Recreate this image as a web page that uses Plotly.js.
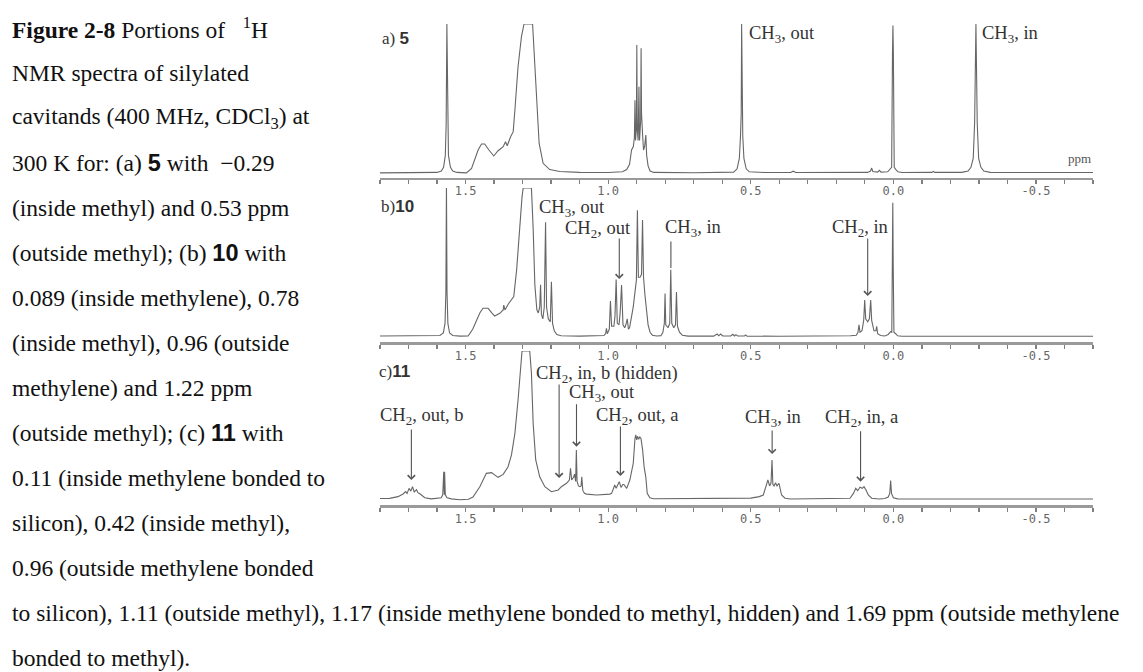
<!DOCTYPE html>
<html>
<head>
<meta charset="utf-8">
<script src="https://cdn.plot.ly/plotly-3.0.1.min.js"></script>
<style>html,body{margin:0;padding:0;background:#fff;}#chart{width:1143px;height:672px;}</style>
</head>
<body>
<div id="chart"></div>
<script>
// ---- Data: [ppm, relative intensity (0 = baseline, 100 = panel top)] ----
const spectrumA = [[1.80,0.3],[1.70,0.3],[1.62,0.4],[1.60,0.6],[1.585,1.5],[1.577,4],[1.571,12],[1.568,33],[1.5655,100],[1.563,33],[1.560,12],[1.553,4],[1.545,1.5],[1.53,0.6],[1.497,0.3],[1.479,3.3],[1.468,8.9],[1.456,15.6],[1.444,19.6],[1.433,19.6],[1.418,15.6],[1.401,11.6],[1.386,15.1],[1.368,17.8],[1.360,21.2],[1.354,18.5],[1.342,24.5],[1.333,27.9],[1.327,42.4],[1.316,71.4],[1.304,91.5],[1.295,100],[1.265,100],[1.260,82.6],[1.251,44.6],[1.242,20],[1.228,6.7],[1.205,2.5],[1.17,1.2],[1.10,0.6],[1.00,0.5],[0.95,1],[0.935,2.5],[0.925,6],[0.918,15.6],[0.912,17.8],[0.908,24],[0.906,49],[0.904,22],[0.901,30],[0.8995,86],[0.898,30],[0.895,22],[0.892,58],[0.890,22],[0.886,35],[0.8845,83.7],[0.883,40],[0.879,25],[0.876,15.6],[0.872,18],[0.868,25.7],[0.865,12],[0.860,5],[0.853,1.5],[0.84,0.6],[0.70,0.4],[0.60,0.5],[0.56,0.8],[0.548,3],[0.540,10],[0.536,25],[0.5335,40],[0.532,100],[0.5305,40],[0.528,25],[0.524,10],[0.516,3],[0.505,1],[0.45,0.5],[0.36,0.5],[0.351,1.4],[0.342,0.5],[0.20,0.5],[0.09,0.6],[0.080,1.5],[0.076,3.5],[0.072,1.2],[0.055,0.8],[0.049,2],[0.043,0.8],[0.02,1],[0.012,2.5],[0.006,4],[0.003,81],[0.0015,99],[0.000,81],[-0.003,4],[-0.009,2.5],[-0.016,1],[-0.03,0.5],[-0.10,0.5],[-0.135,0.6],[-0.140,1.3],[-0.145,0.6],[-0.24,0.6],[-0.262,1.5],[-0.272,4],[-0.280,10],[-0.285,34],[-0.2895,100],[-0.294,34],[-0.299,10],[-0.307,4],[-0.317,1.5],[-0.34,0.6],[-0.45,0.5],[-0.60,0.5],[-0.70,0.5]];

const spectrumB = [[1.80,0.5],[1.75,0.6],[1.70,0.4],[1.65,0.6],[1.61,0.5],[1.59,0.8],[1.578,2.5],[1.572,9],[1.569,30],[1.567,102],[1.565,30],[1.562,9],[1.556,2.5],[1.545,0.8],[1.52,0.4],[1.491,0.5],[1.475,5],[1.462,11.2],[1.450,16],[1.439,19.1],[1.421,19.1],[1.408,16],[1.398,13.9],[1.380,15.7],[1.368,18],[1.366,21.3],[1.362,18],[1.350,22],[1.339,24.7],[1.331,27],[1.321,44.8],[1.310,76.3],[1.302,94],[1.298,100],[1.269,100],[1.263,72.9],[1.257,34.8],[1.250,18],[1.245,16],[1.240,20],[1.237,35],[1.234,15],[1.229,12],[1.224,20],[1.2195,77],[1.216,20],[1.210,12],[1.203,10],[1.199,37],[1.195,9],[1.189,4],[1.18,1.5],[1.165,0.6],[1.10,0.4],[1.03,0.4],[1.015,0.8],[1.009,2],[1.006,5.6],[1.003,2],[0.996,5],[0.992,24],[0.988,7],[0.980,7],[0.976,14],[0.972,38.5],[0.968,9],[0.962,8],[0.958,16],[0.953,34.8],[0.948,8],[0.942,6],[0.938,8],[0.933,12],[0.929,5],[0.925,6],[0.918,13],[0.912,20],[0.906,30],[0.901,38],[0.8975,85],[0.894,40],[0.888,40],[0.883,42],[0.8795,78.5],[0.876,40],[0.871,28],[0.866,17],[0.860,8],[0.853,3],[0.845,1],[0.83,0.5],[0.815,0.7],[0.808,3],[0.803,9],[0.8005,29],[0.798,8],[0.790,6],[0.784,9],[0.7805,45],[0.777,9],[0.770,6],[0.764,8],[0.7605,30],[0.757,7],[0.750,3],[0.740,1],[0.72,0.4],[0.63,0.4],[0.618,1.8],[0.612,0.6],[0.606,1.8],[0.598,0.5],[0.57,0.5],[0.563,1.6],[0.557,0.5],[0.552,1.4],[0.546,0.5],[0.522,0.5],[0.518,1.2],[0.513,0.4],[0.40,0.3],[0.20,0.3],[0.15,0.6],[0.13,1],[0.124,3],[0.1205,8],[0.117,3],[0.110,4],[0.104,11],[0.1005,24.7],[0.097,12],[0.090,10],[0.084,12],[0.0795,24.7],[0.076,11],[0.068,4],[0.061,4],[0.0585,7],[0.055,2],[0.045,0.8],[0.03,0.5],[0.018,1.5],[0.010,3.4],[0.0055,3],[0.0035,48],[0.002,90],[0.0005,48],[-0.002,3],[-0.008,2],[-0.015,0.6],[-0.03,0.3],[-0.30,0.3],[-0.60,0.3],[-0.70,0.3]];

const spectrumC = [[1.80,0.5],[1.766,0.6],[1.737,1.8],[1.719,3.6],[1.710,5.2],[1.705,4],[1.698,7.4],[1.692,5.5],[1.686,8.5],[1.680,5],[1.672,6.5],[1.667,4.5],[1.659,3.6],[1.643,1.1],[1.62,0.3],[1.600,0.5],[1.585,1],[1.580,3],[1.5765,18.6],[1.5745,3],[1.5735,18.6],[1.571,3],[1.565,1],[1.55,0.3],[1.52,-0.3],[1.49,0],[1.474,1.5],[1.450,8.5],[1.427,17.5],[1.409,18],[1.386,14.8],[1.368,16.8],[1.351,22],[1.339,29.9],[1.327,44.5],[1.316,67],[1.307,87.2],[1.302,100],[1.275,100],[1.269,85],[1.263,51.2],[1.254,26.5],[1.240,15.2],[1.222,8.5],[1.199,5.1],[1.175,6.3],[1.164,8.5],[1.146,10.8],[1.136,13],[1.132,20.9],[1.128,13],[1.121,15],[1.118,17],[1.114,12],[1.1115,33.2],[1.109,12],[1.104,9],[1.099,8.5],[1.095,9],[1.0925,15.2],[1.089,6],[1.083,4],[1.076,3.5],[1.041,2.9],[0.994,3.5],[0.988,4],[0.980,8],[0.977,9.6],[0.972,7.5],[0.967,10],[0.961,11.9],[0.955,8],[0.949,10],[0.945,10],[0.935,7.4],[0.924,13],[0.912,24.3],[0.906,41],[0.903,43.5],[0.900,40],[0.897,42.5],[0.893,40.5],[0.889,42],[0.885,41],[0.879,33],[0.874,22],[0.868,15],[0.863,4],[0.854,1],[0.84,0.4],[0.70,0.6],[0.60,0.6],[0.50,0.8],[0.470,1.8],[0.456,2.9],[0.447,8.5],[0.440,13],[0.434,9],[0.429,11],[0.4255,26.5],[0.4225,10],[0.418,9],[0.413,11.2],[0.408,9],[0.401,10.8],[0.392,2.9],[0.380,0.7],[0.36,0.2],[0.20,0.2],[0.152,0.7],[0.140,4],[0.132,7.4],[0.125,5.8],[0.117,8.1],[0.109,7.4],[0.103,8.5],[0.096,6.3],[0.088,2.9],[0.076,0.7],[0.05,0.2],[0.03,0.5],[0.018,1.5],[0.0125,4],[0.0095,12.6],[0.0065,4],[0.000,1],[-0.015,0.3],[-0.10,0.2],[-0.40,0.2],[-0.70,0.2]];

const tickValues = [1.5, 1.0, 0.5, 0.0, -0.5];
const tickLabels = ['1.5', '1.0', '0.5', '0.0', '-0.5'];

const SANS = t => '<b><span style="font-family:Liberation Sans">' + t + '</span></b>';
const NB = n => '\u00A0'.repeat(n);
const panelTitles = ['a) ' + SANS('5'), 'b)' + SANS('10'), 'c)' + SANS('11')];

const captionLines = [
  '<b>Figure 2-8</b> Portions of' + NB(3) + '<sup>1</sup>H',
  'NMR spectra of silylated',
  'cavitands (400 MHz, CDCl<sub>3</sub>) at',
  '300 K for: (a) ' + SANS('5') + ' with' + NB(2) + '\u22120.29',
  '(inside methyl) and 0.53 ppm',
  '(outside methyl); (b) ' + SANS('10') + ' with',
  '0.089 (inside methylene), 0.78',
  '(inside methyl), 0.96 (outside',
  'methylene) and 1.22 ppm',
  '(outside methyl); (c) ' + SANS('11') + ' with',
  '0.11 (inside methylene bonded to',
  'silicon), 0.42 (inside methyl),',
  '0.96 (outside methylene bonded',
  'to silicon), 1.11 (outside methyl), 1.17 (inside methylene bonded to methyl, hidden) and 1.69 ppm (outside methylene',
  'bonded to methyl).'
];

// ---- Layout geometry (pixels) ----
const W = 1143, H = 672;
const PX = x => x / W, PY = y => 1 - y / H;
const panels = [
  {top: 24,  axis: 177.5, base: 173.3},
  {top: 188, axis: 342,   base: 336.7},
  {top: 351, axis: 505,   base: 499.3}
];
const lineColor = '#666666';
const serif = 'Liberation Serif, Times New Roman, serif';

const specs = [spectrumA, spectrumB, spectrumC];
const data = specs.map((s, i) => ({
  type: 'scatter', mode: 'lines',
  x: s.map(p => p[0]), y: s.map(p => p[1]),
  xaxis: i === 0 ? 'x' : 'x' + (i + 1),
  yaxis: i === 0 ? 'y' : 'y' + (i + 1),
  line: {color: lineColor, width: 1.1},
  hoverinfo: 'skip', showlegend: false
}));

const layout = {
  width: W, height: H,
  margin: {l: 0, r: 0, t: 0, b: 0},
  paper_bgcolor: '#fff', plot_bgcolor: 'rgba(0,0,0,0)',
  showlegend: false,
  annotations: [],
  font: {family: serif, color: '#222'}
};

panels.forEach((p, i) => {
  const xk = i === 0 ? 'xaxis' : 'xaxis' + (i + 1);
  const yk = i === 0 ? 'yaxis' : 'yaxis' + (i + 1);
  const ya = i === 0 ? 'y' : 'y' + (i + 1);
  layout[xk] = {
    domain: [PX(380), PX(1093)], range: [1.8, -0.7], anchor: ya,
    showline: true, linecolor: '#9a9a9a', linewidth: 2.5,
    ticks: 'outside', ticklen: 4, tickwidth: 1.3, tickcolor: '#808080',
    tickmode: 'array', tickvals: tickValues, ticktext: tickLabels,
    ticklabelstandoff: -3,
    tickfont: {family: 'DejaVu Sans Mono, monospace', size: 12, color: '#666'},
    minor: {tickmode: 'linear', tick0: 0, dtick: 0.1, ticks: 'outside', ticklen: 4, tickwidth: 1.3, tickcolor: '#808080'},
    showgrid: false, zeroline: false, fixedrange: true
  };
  const lo = -(p.axis - p.base) / (p.base - p.top) * 100;
  layout[yk] = {
    domain: [PY(p.axis), PY(p.top)], range: [lo, 100],
    visible: false, showgrid: false, zeroline: false, fixedrange: true
  };
});

function txt(text, x, y, opts) {
  layout.annotations.push(Object.assign({
    text: text, xref: 'paper', yref: 'paper', x: PX(x), y: PY(y),
    xanchor: 'left', yanchor: 'middle', showarrow: false,
    font: {family: serif, size: 18.5, color: '#333'}
  }, opts || {}));
}
function arrow(axis, ppm, val, len, head) {
  layout.annotations.push({
    text: '', xref: 'x' + (axis === 1 ? '' : axis), yref: 'y' + (axis === 1 ? '' : axis),
    x: ppm, y: val, ax: 0, ay: -len, axref: 'pixel', ayref: 'pixel',
    showarrow: true, arrowhead: head, arrowsize: 1.3, arrowwidth: 1.1, arrowcolor: '#555'
  });
}

// caption
captionLines.forEach((t, i) => {
  txt(t, 10, 28 + 45 * i, {font: {family: serif, size: 23.5, color: '#111'}});
});

// panel titles
const titleFont = {family: serif, size: 17, color: '#333'};
txt(panelTitles[0], 380, 38, {font: titleFont});
txt(panelTitles[1], 379, 206, {font: titleFont});
txt(panelTitles[2], 377, 371, {font: titleFont});

// panel a labels
txt('CH<sub>3</sub>, out', 747, 34);
txt('CH<sub>3</sub>, in', 980, 34);
txt('ppm', 1093, 159, {xanchor: 'right', font: {family: serif, size: 13, color: '#555'}});

// panel b labels
txt('CH<sub>3</sub>, out', 537, 208);
txt('CH<sub>2</sub>, out', 563, 229);
arrow(2, 0.961, 38.8, 42, 4);
txt('CH<sub>3</sub>, in', 663, 228);
arrow(2, 0.780, 46.2, 28, 0);
txt('CH<sub>2</sub>, in', 830, 228);
arrow(2, 0.090, 27.4, 59, 4);

// panel c labels
txt('CH<sub>2</sub>, in, b (hidden)', 534, 374);
arrow(3, 1.172, 14.4, 95, 4);
txt('CH<sub>3</sub>, out', 567, 393);
arrow(3, 1.111, 35.5, 44, 4);
txt('CH<sub>2</sub>, out, b', 378, 416);
arrow(3, 1.690, 13, 52, 4);
txt('CH<sub>2</sub>, out, a', 594, 416);
arrow(3, 0.957, 15.7, 51, 4);
txt('CH<sub>3</sub>, in', 743, 418);
arrow(3, 0.425, 30.5, 25, 4);
txt('CH<sub>2</sub>, in, a', 823, 418);
arrow(3, 0.115, 11.9, 52, 4);

Plotly.newPlot('chart', data, layout, {staticPlot: true, displayModeBar: false});
</script>
</body>
</html>
